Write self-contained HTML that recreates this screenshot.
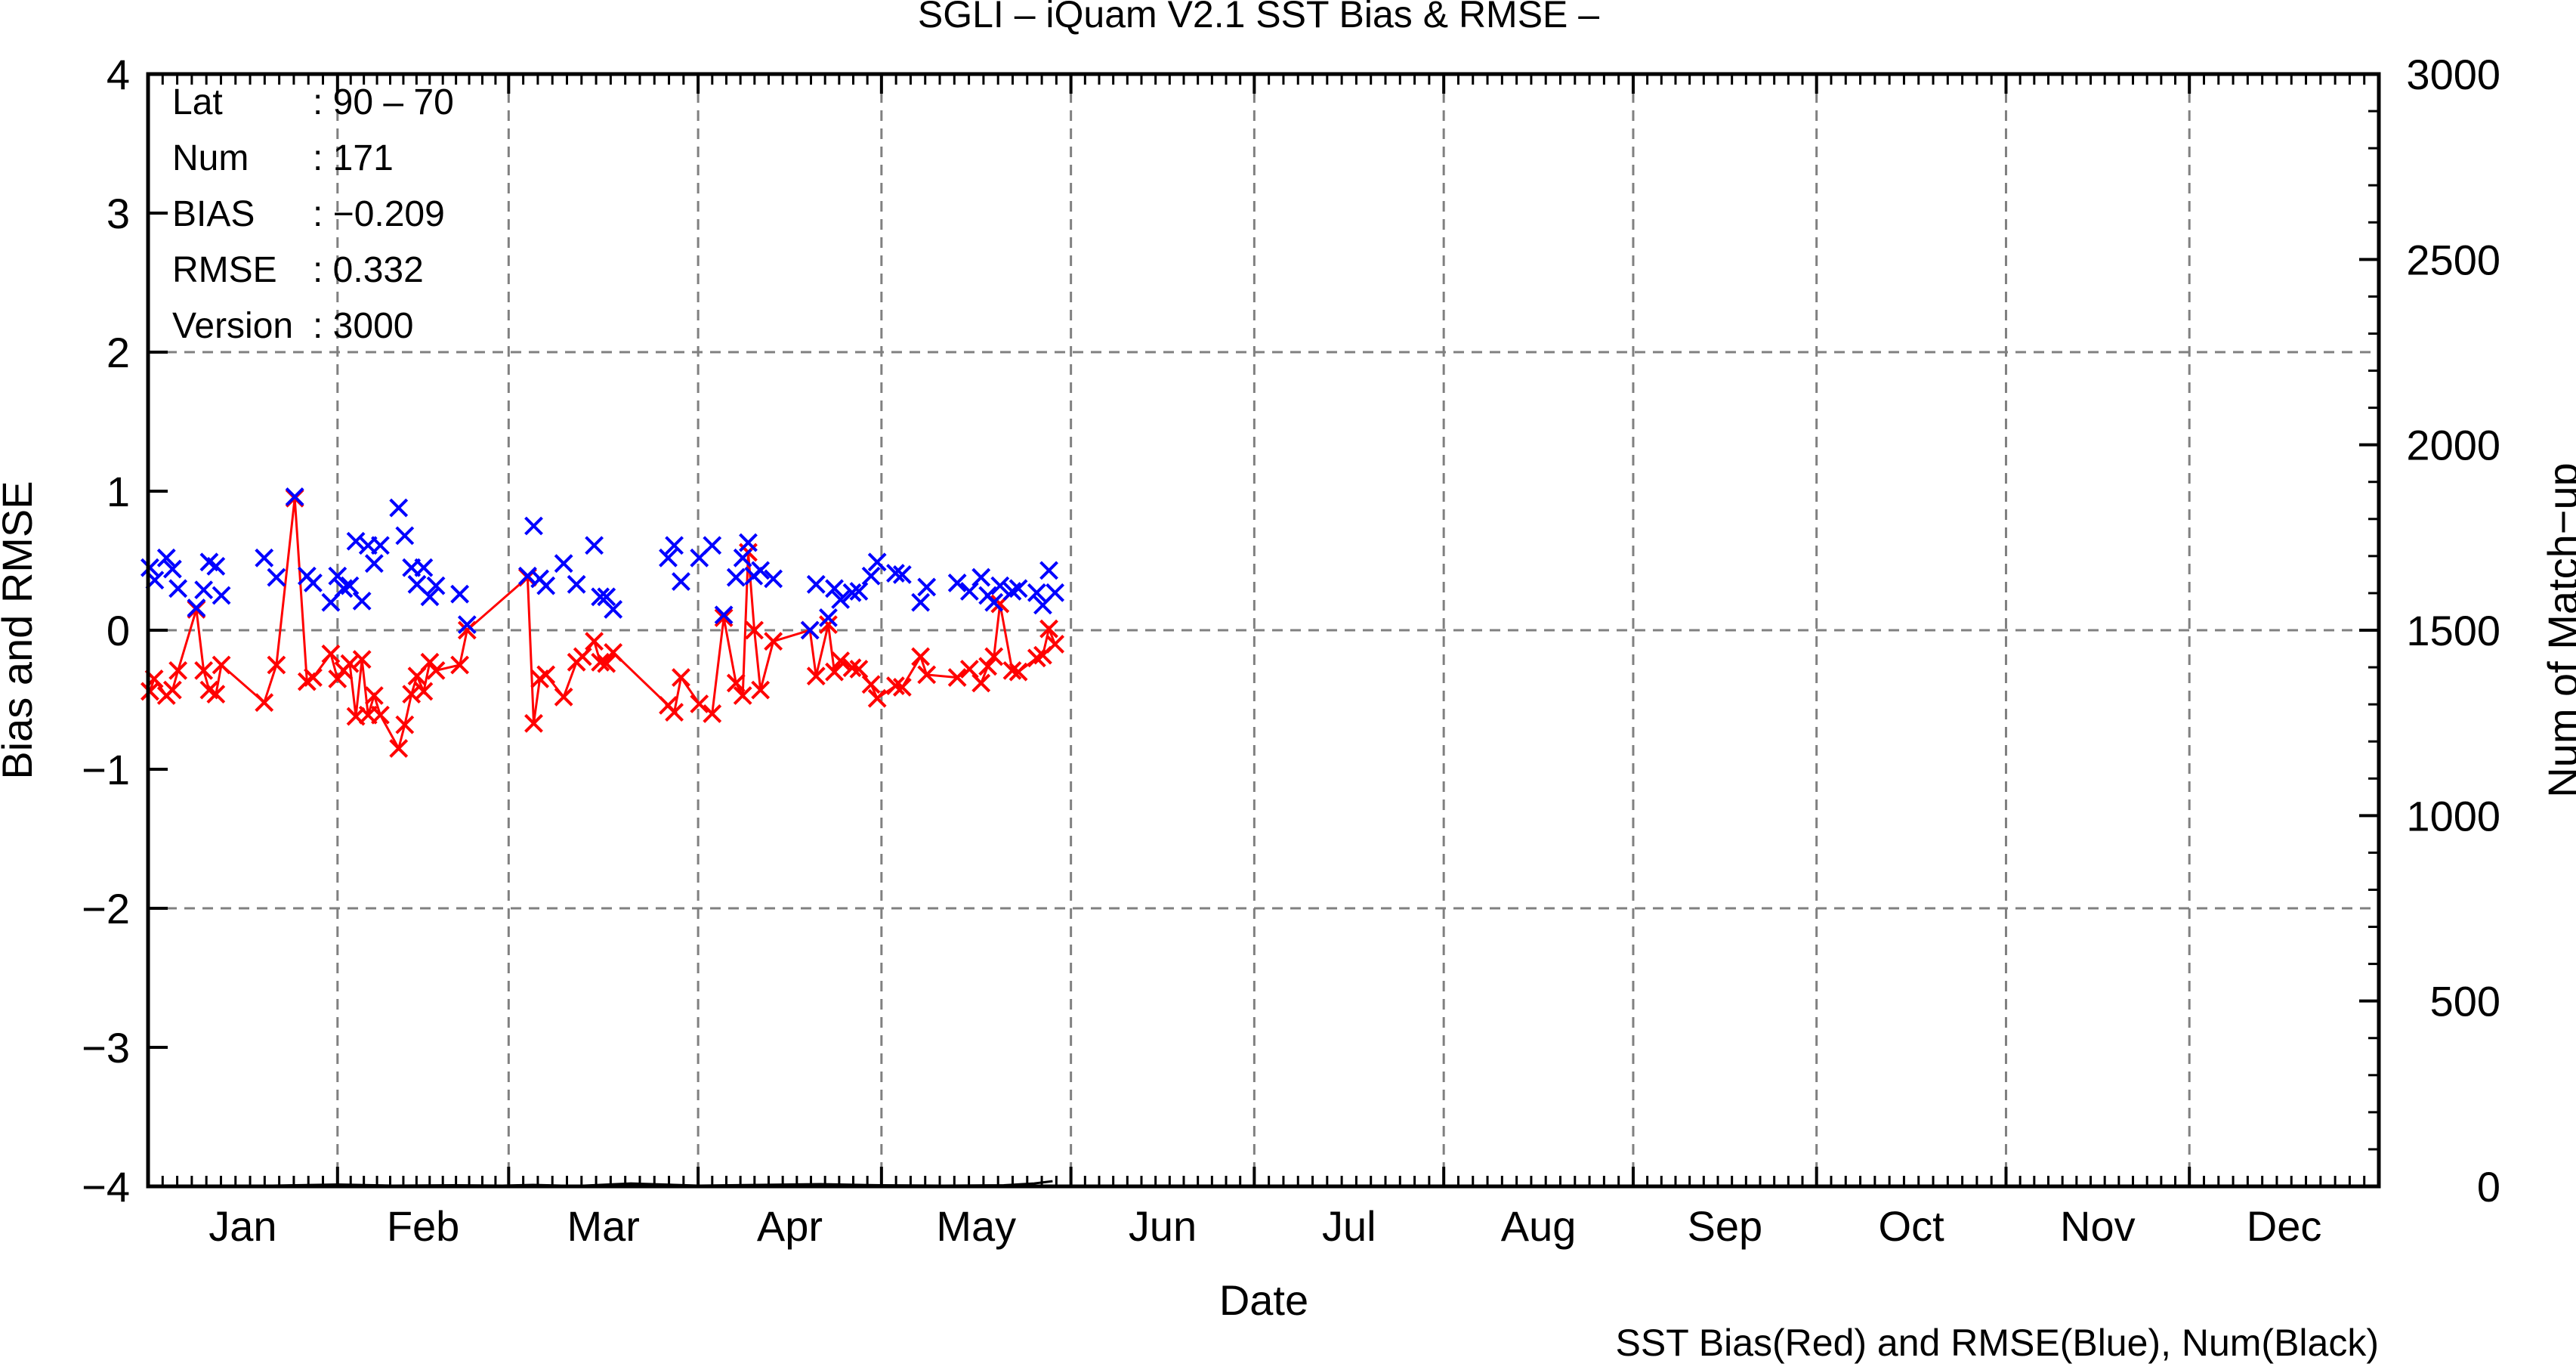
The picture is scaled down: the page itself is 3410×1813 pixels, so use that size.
<!DOCTYPE html>
<html><head><meta charset="utf-8"><style>
html,body{margin:0;padding:0;background:#fff;}
svg{display:block;font-family:"Liberation Sans",sans-serif;}
</style></head><body>
<svg id="chart" width="3410" height="1813" viewBox="0 0 3410 1813" xmlns="http://www.w3.org/2000/svg">
<rect x="0" y="0" width="3410" height="1813" fill="#fff"/>
<g id="grid"></g>
<g id="series"></g>
<g id="axes"></g>
<text x="1666" y="36" font-size="50" text-anchor="middle">SGLI – iQuam V2.1 SST Bias &amp; RMSE  –</text>
<text x="1673" y="1740" font-size="56" text-anchor="middle">Date</text>
<text x="3149" y="1794" font-size="50" text-anchor="end">SST Bias(Red) and RMSE(Blue), Num(Black)</text>
<text transform="translate(42,834) rotate(-90)" font-size="56" text-anchor="middle">Bias and RMSE</text>
<text transform="translate(3412,834) rotate(-90)" font-size="56" text-anchor="middle">Num of Match−up</text>
<g font-size="48">
<text x="228" y="151">Lat</text><text x="414" y="151">: 90 – 70</text>
<text x="228" y="225">Num</text><text x="414" y="225">: 171</text>
<text x="228" y="299">BIAS</text><text x="414" y="299">: −0.209</text>
<text x="228" y="373">RMSE</text><text x="414" y="373">: 0.332</text>
<text x="228" y="447">Version</text><text x="414" y="447">: 3000</text>
</g>
</svg>
<script>
const monthLabels=["Jan","Feb","Mar","Apr","May","Jun","Jul","Aug","Sep","Oct","Nov","Dec"];
const monthDays=[31,28,31,30,31,30,31,31,30,31,30,31];
const leftTicks=[-4,-3,-2,-1,0,1,2,3,4];
const rightTicks=[0,500,1000,1500,2000,2500,3000];
const rmseDays=[0.3,1.1,3.0,4.0,4.9,7.9,9.1,10.0,11.1,12.0,19.0,21.0,24.0,26.0,27.0,29.9,31.0,32.0,33.0,34.0,35.0,36.0,37.0,38.0,41.0,42.0,43.1,44.0,45.1,46.1,47.1,51.0,52.2,62.1,63.1,64.1,65.1,68.0,70.1,73.0,74.0,75.0,76.1,85.1,86.1,87.2,90.2,92.3,94.2,96.2,97.3,98.2,99.1,100.2,102.3,108.3,109.3,111.3,112.3,113.3,115.2,116.3,118.3,119.3,122.3,123.4,126.4,127.4,132.4,134.4,136.3,137.4,138.4,139.4,141.4,142.4,145.4,146.4,147.4,148.4];
const rmseVals=[0.45,0.36,0.52,0.44,0.30,0.16,0.29,0.49,0.46,0.25,0.52,0.38,0.96,0.39,0.34,0.20,0.39,0.30,0.32,0.64,0.21,0.61,0.48,0.61,0.88,0.68,0.45,0.33,0.45,0.24,0.32,0.26,0.04,0.39,0.75,0.37,0.32,0.48,0.33,0.61,0.24,0.24,0.15,0.52,0.61,0.35,0.52,0.61,0.11,0.38,0.52,0.63,0.39,0.43,0.37,0.0,0.33,0.09,0.30,0.22,0.27,0.28,0.39,0.49,0.41,0.40,0.20,0.31,0.34,0.28,0.38,0.25,0.20,0.32,0.28,0.30,0.27,0.18,0.43,0.27];
const biasDays=[0.3,1.0,3.0,4.0,4.9,7.9,9.1,10.0,11.1,12.0,19.0,21.0,24.0,26.0,27.0,29.9,31.0,32.0,33.0,34.0,35.0,36.0,37.0,38.0,41.0,42.0,43.1,44.0,45.1,46.1,47.1,51.0,52.2,62.1,63.1,64.1,65.1,68.0,70.1,71.1,73.0,74.0,75.0,76.1,85.1,86.1,87.2,90.2,92.3,94.2,96.2,97.3,98.2,99.2,100.2,102.3,108.3,109.3,111.3,112.3,113.3,115.2,116.3,118.3,119.3,122.3,123.4,126.4,127.4,132.4,134.4,136.3,137.4,138.4,139.4,141.4,142.4,145.4,146.4,147.4,148.4];
const biasVals=[-0.44,-0.35,-0.47,-0.43,-0.29,0.15,-0.29,-0.43,-0.46,-0.25,-0.52,-0.25,0.95,-0.37,-0.34,-0.17,-0.35,-0.29,-0.24,-0.62,-0.21,-0.61,-0.47,-0.61,-0.85,-0.68,-0.46,-0.33,-0.44,-0.23,-0.29,-0.25,0.0,0.38,-0.67,-0.35,-0.32,-0.48,-0.23,-0.19,-0.08,-0.23,-0.24,-0.16,-0.54,-0.59,-0.34,-0.53,-0.60,0.09,-0.38,-0.47,0.56,0.0,-0.43,-0.08,0.0,-0.33,0.04,-0.30,-0.22,-0.27,-0.28,-0.39,-0.49,-0.40,-0.41,-0.19,-0.32,-0.34,-0.28,-0.38,-0.26,-0.19,0.19,-0.29,-0.30,-0.20,-0.18,0.01,-0.10];
const numDays=[0,10,17,24,31,40,50,58,63,70,79,90,100,110,120,130,140,145,148];
const numVals=[1,2,1,3,5,2,3,2,4,1,8,2,4,6,3,2,3,8,14];

const NS="http://www.w3.org/2000/svg";
const L=196,R=3149,T=98,B=1570;
const xS=d=>L+d*(R-L)/365;
const yL=v=>T+(4-v)*(B-T)/8;
const yR=v=>B-v*(B-T)/3000;
function mk(tag,attrs,parent){const e=document.createElementNS(NS,tag);for(const k in attrs)e.setAttribute(k,attrs[k]);parent.appendChild(e);return e;}
const grid=document.getElementById('grid'),axes=document.getElementById('axes'),series=document.getElementById('series');

let starts=[0];for(let i=0;i<11;i++)starts.push(starts[i]+monthDays[i]);
starts.forEach((s,i)=>{
  if(i>0){const g=mk('line',{x1:xS(s),x2:xS(s),y1:T,y2:B,stroke:'#808080','stroke-width':3,'stroke-dasharray':'14 10'},grid);
  
  
  [[B,B-26],[T,T+26]].forEach(p=>{const t=mk('line',{x1:xS(s),x2:xS(s),y1:p[0],y2:p[1],stroke:'#000','stroke-width':4},axes);
  
  });}
  const lb=mk('text',{x:xS(s+monthDays[i]/2),y:1642,'font-size':56,'text-anchor':'middle'},axes);lb.textContent=monthLabels[i];
  
  
  for(let k=1;k<13;k++){const d=s+k*monthDays[i]/13;
    [[B,B-14],[T,T+14]].forEach(p=>{const t=mk('line',{x1:xS(d),x2:xS(d),y1:p[0],y2:p[1],stroke:'#000','stroke-width':3},axes);
    
    });}
});
leftTicks.forEach(v=>{
  if(v>-4&&v<4&&v%2===0){const g=mk('line',{x1:L,x2:R,y1:yL(v),y2:yL(v),stroke:'#808080','stroke-width':3,'stroke-dasharray':'14 10'},grid);
  
  }
  const t=mk('line',{x1:L,x2:L+26,y1:yL(v),y2:yL(v),stroke:'#000','stroke-width':4},axes);
  
  
  const lb=mk('text',{x:172,y:yL(v)+20,'font-size':56,'text-anchor':'end'},axes);lb.textContent=v<0?'−'+(-v):String(v);
  
  
});
for(let v=0;v<=3000;v+=100){const maj=v%500===0;
  const t=mk('line',{x1:R,x2:R-(maj?26:14),y1:yR(v),y2:yR(v),stroke:'#000','stroke-width':maj?4:3},axes);
  
  }
rightTicks.forEach(v=>{const lb=mk('text',{x:3310,y:yR(v)+20,'font-size':56,'text-anchor':'end'},axes);lb.textContent=String(v);
  
  });
const frame=mk('rect',{x:L,y:T,width:R-L,height:B-T,fill:'none',stroke:'#000','stroke-width':5},axes);



function cross(x,y,c,name){const s=11;const g=mk('path',{d:`M${x-s} ${y-s}L${x+s} ${y+s}M${x-s} ${y+s}L${x+s} ${y-s}`,stroke:c,'stroke-width':4,fill:'none'},series);
  
  }
const np=mk('polyline',{points:numDays.map((d,i)=>xS(d)+','+yR(numVals[i])).join(' '),stroke:'#000','stroke-width':3,fill:'none'},series);


const bp=mk('polyline',{points:biasDays.map((d,i)=>xS(d)+','+yL(biasVals[i])).join(' '),stroke:'#f00','stroke-width':3,fill:'none'},series);


biasDays.forEach((d,i)=>cross(xS(d),yL(biasVals[i]),'#f00','bias-point'));
rmseDays.forEach((d,i)=>cross(xS(d),yL(rmseVals[i]),'#00f','rmse-point'));
</script>
</body></html>
